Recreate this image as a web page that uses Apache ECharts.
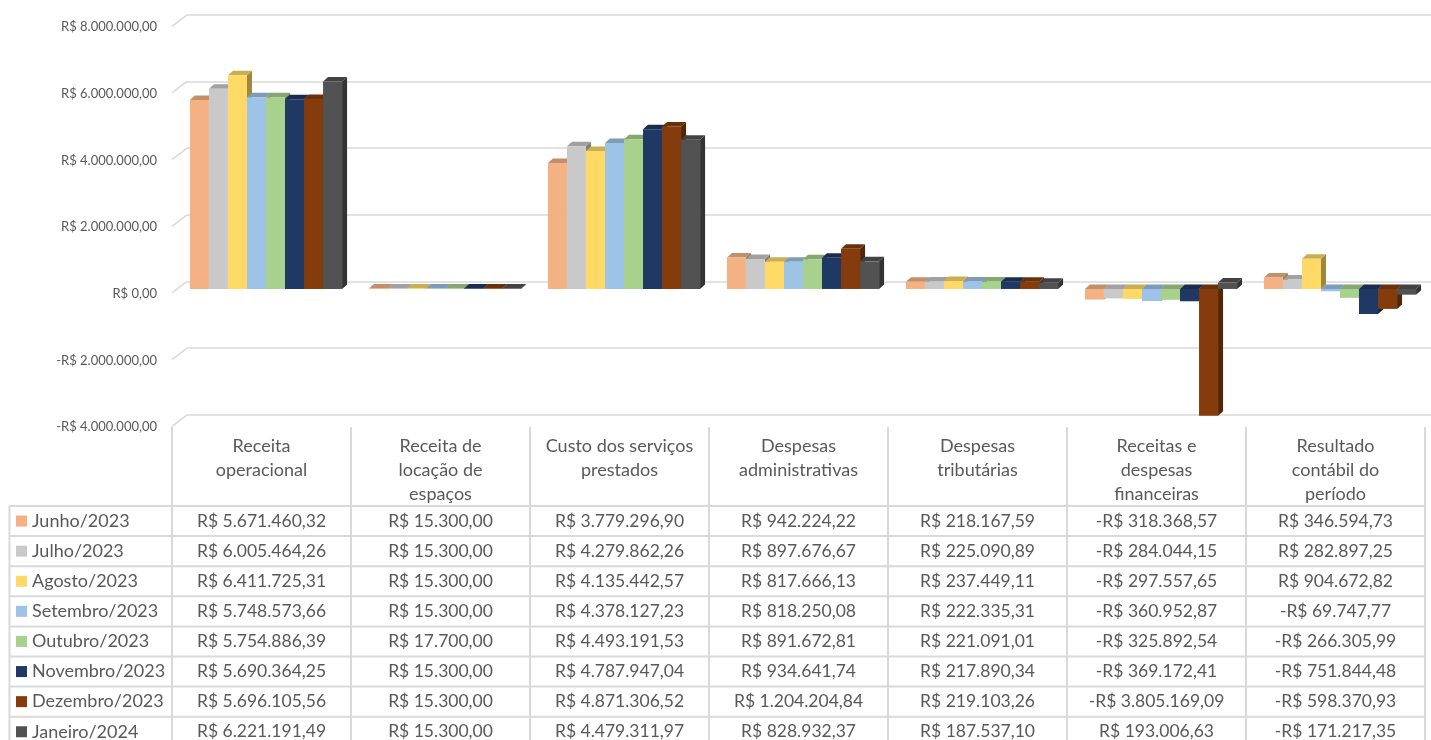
<!DOCTYPE html>
<html>
<head>
<meta charset="utf-8">
<script src="https://cdn.jsdelivr.net/npm/echarts@6/dist/echarts.min.js"></script>
<style>
html,body{margin:0;padding:0;background:#fff;}
#chart{width:1431px;height:740px;}
</style>
</head>
<body>
<div id="chart"></div>
<script>
// ---- Data ----
const categories = ['Receita\noperacional', 'Receita de\nlocação de\nespaços', 'Custo dos serviços\nprestados', 'Despesas\nadministrativas', 'Despesas\ntributárias', 'Receitas e\ndespesas\nfinanceiras', 'Resultado\ncontábil do\nperíodo'];
const months = ['Junho/2023', 'Julho/2023', 'Agosto/2023', 'Setembro/2023', 'Outubro/2023', 'Novembro/2023', 'Dezembro/2023', 'Janeiro/2024'];
const junho    = [5671460.32, 15300.00, 3779296.90, 942224.22, 218167.59, -318368.57, 346594.73];
const julho    = [6005464.26, 15300.00, 4279862.26, 897676.67, 225090.89, -284044.15, 282897.25];
const agosto   = [6411725.31, 15300.00, 4135442.57, 817666.13, 237449.11, -297557.65, 904672.82];
const setembro = [5748573.66, 15300.00, 4378127.23, 818250.08, 222335.31, -360952.87, -69747.77];
const outubro  = [5754886.39, 17700.00, 4493191.53, 891672.81, 221091.01, -325892.54, -266305.99];
const novembro = [5690364.25, 15300.00, 4787947.04, 934641.74, 217890.34, -369172.41, -751844.48];
const dezembro = [5696105.56, 15300.00, 4871306.52, 1204204.84, 219103.26, -3805169.09, -598370.93];
const janeiro  = [6221191.49, 15300.00, 4479311.97, 828932.37, 187537.10, 193006.63, -171217.35];
const seriesValues = [junho, julho, agosto, setembro, outubro, novembro, dezembro, janeiro];
const yTicks = [-4000000, -2000000, 0, 2000000, 4000000, 6000000, 8000000];

// ---- Style ----
const colors = ['#F4B183', '#C9C9C9', '#FFD966', '#9DC3E6', '#A9D18E', '#203864', '#843C0C', '#525252'];
const FONT = 'Lato';
const TXT = '#595959';
const LINE = '#D9D9D9';

function fmt(v) {
  const neg = v < 0;
  const s = Math.abs(v).toFixed(2);
  let [ip, dp] = s.split('.');
  ip = ip.replace(/\B(?=(\d{3})+(?!\d))/g, '.');
  return (neg ? '-' : '') + 'R$ ' + ip + ',' + dp;
}
function shade(hex, f) {
  const n = parseInt(hex.slice(1), 16);
  const r = Math.round(((n >> 16) & 255) * f), g = Math.round(((n >> 8) & 255) * f), b = Math.round((n & 255) * f);
  return 'rgb(' + r + ',' + g + ',' + b + ')';
}

const NS = months.length;
const GROUP = 0.85, SHIFT = 4.5, DX = 5, DY = 4.5;

function renderItem(params, api) {
  const si = params.seriesIndex;
  const cat = api.value(0), v = api.value(1);
  const base = api.coord([cat, 0]);
  const top = api.coord([cat, v]);
  const band = api.size([1, 0])[0];
  const bw = band * GROUP / NS;
  const x0 = base[0] - band * GROUP / 2 + si * bw + SHIFT;
  const yTop = Math.min(base[1], top[1]);
  const yBot = Math.max(base[1], top[1]);
  const c = colors[si];
  return {
    type: 'group',
    children: [
      { type: 'polygon', shape: { points: [[x0 + bw, yTop], [x0 + bw + DX, yTop - DY], [x0 + bw + DX, yBot - DY], [x0 + bw, yBot]] }, style: { fill: shade(c, 0.62) } },
      { type: 'polygon', shape: { points: [[x0, yTop], [x0 + bw, yTop], [x0 + bw + DX, yTop - DY], [x0 + DX, yTop - DY]] }, style: { fill: shade(c, 0.8) } },
      { type: 'rect', shape: { x: x0, y: yTop, width: bw, height: yBot - yTop }, style: { fill: c } }
    ]
  };
}

const chart = echarts.init(document.getElementById('chart'), null, { renderer: 'canvas' });

const series = months.map((m, i) => ({
  name: m,
  type: 'custom',
  xAxisIndex: 0,
  yAxisIndex: 0,
  renderItem: renderItem,
  data: seriesValues[i].map((v, k) => [k, v]),
  z: 3
}));

chart.setOption({
  animation: false,
  backgroundColor: '#fff',
  textStyle: { fontFamily: FONT },
  grid: [
    { left: 172, right: 6, top: 22.3, height: 400 },
    { left: 187, right: 0, top: 14.8, height: 400 }
  ],
  xAxis: [
    { type: 'category', gridIndex: 0, data: categories, axisLine: { show: false }, axisTick: { show: false }, splitLine: { show: false },
      axisLabel: { interval: 0, color: TXT, fontFamily: FONT, fontSize: 18, lineHeight: 24, margin: 12, verticalAlign: 'top' } },
    { type: 'value', gridIndex: 1, show: false }
  ],
  yAxis: [
    { type: 'value', gridIndex: 0, min: -4000000, max: 8000000, interval: 2000000, axisLine: { show: false }, axisTick: { show: false }, splitLine: { show: false },
      axisLabel: { show: false } },
    { type: 'value', gridIndex: 1, min: -4000000, max: 8000000, interval: 2000000, axisLine: { show: false }, axisTick: { show: false }, axisLabel: { show: false },
      splitLine: { show: true, lineStyle: { color: LINE, width: 1.5 } } }
  ],
  series: series
});

// ---- Axis labels, diagonal wall edges and data table ----
const g = [];
yTicks.forEach(t => {
  const y = chart.convertToPixel({ yAxisIndex: 0 }, t);
  g.push({ type: 'line', shape: { x1: 172, y1: y + 4, x2: 187, y2: y - 7.5 }, style: { stroke: LINE, lineWidth: 1.5 }, silent: true });
  g.push({ type: 'text', x: 157, y: y + 5, style: { text: fmt(t), fill: TXT, font: '13px ' + FONT, textAlign: 'right', textVerticalAlign: 'middle' }, silent: true });
});

const colW = chart.convertToPixel({ xAxisIndex: 0 }, 1) - chart.convertToPixel({ xAxisIndex: 0 }, 0);
const xs = categories.map((c, k) => chart.convertToPixel({ xAxisIndex: 0 }, k));
const tableLeft = 9.5;
const firstColRight = xs[0] - colW / 2;
const tableRight = xs[xs.length - 1] + colW / 2;
const headerTop = 427;
const rowTop = 506;
const rowH = 30.1;

for (let k = 0; k <= categories.length; k++) {
  const x = firstColRight + k * colW;
  g.push({ type: 'line', shape: { x1: x, y1: headerTop, x2: x, y2: 760 }, style: { stroke: LINE, lineWidth: 2 }, silent: true });
}
g.push({ type: 'line', shape: { x1: tableLeft, y1: rowTop, x2: tableLeft, y2: 760 }, style: { stroke: LINE, lineWidth: 2 }, silent: true });
for (let r = 0; r <= months.length; r++) {
  const y = rowTop + r * rowH;
  g.push({ type: 'line', shape: { x1: tableLeft, y1: y, x2: tableRight, y2: y }, style: { stroke: LINE, lineWidth: 2 }, silent: true });
}
months.forEach((m, r) => {
  const yc = rowTop + r * rowH + rowH / 2;
  g.push({ type: 'rect', shape: { x: 16, y: yc - 5.5, width: 11, height: 11 }, style: { fill: colors[r] }, silent: true });
  g.push({ type: 'text', x: 32, y: yc, style: { text: m, fill: TXT, font: '18px ' + FONT, textAlign: 'left', textVerticalAlign: 'middle' }, silent: true });
  seriesValues[r].forEach((v, k) => {
    g.push({ type: 'text', x: xs[k], y: yc, style: { text: fmt(v), fill: TXT, font: '17.5px ' + FONT, textAlign: 'center', textVerticalAlign: 'middle' }, silent: true });
  });
});

chart.setOption({ graphic: g });
</script>
</body>
</html>
